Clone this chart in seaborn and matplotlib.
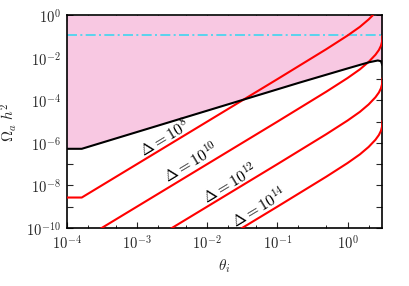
import numpy as np
import pandas as pd
import matplotlib
matplotlib.use("Agg")
import matplotlib.pyplot as plt
import matplotlib.ticker as mticker
import seaborn as sns

# ---- data ----
theta_black = [1e-4, 1.64e-4, 0.21, 1.0, 2.0, 2.7, 3.0, 3.1416]
omega_black = [5.3e-7, 5.3e-7, 7.0e-4, 3.2e-3, 6.2e-3, 7.6e-3, 7.0e-3, 4.5e-3]

theta_d8 = [1e-4, 1.64e-4, 0.1, 0.5, 1.0, 1.5, 2.0, 2.3]
omega_d8 = [2.7e-9, 2.7e-9, 1.0e-3, 2.6e-2, 0.113, 0.29, 0.65, 1.03]

theta_d10 = [3.0e-4, 0.1, 0.5, 1.0, 1.5, 2.0, 2.5, 2.8, 3.0, 3.1, 3.13, 3.1416]
omega_d10 = [9.0e-11, 1.0e-5, 2.6e-4, 1.13e-3, 2.9e-3, 6.5e-3, 1.41e-2, 2.37e-2,
             3.79e-2, 5.76e-2, 7.78e-2, 0.110]

theta_d12 = [3.0e-3, 0.1, 0.5, 1.0, 1.5, 2.0, 2.5, 2.8, 3.0, 3.1, 3.13, 3.1416]
omega_d12 = [9.0e-11, 1.0e-7, 2.6e-6, 1.13e-5, 2.9e-5, 6.5e-5, 1.41e-4, 2.37e-4,
             3.79e-4, 5.76e-4, 7.78e-4, 1.10e-3]

theta_d14 = [3.0e-2, 0.1, 0.5, 1.0, 1.5, 2.0, 2.5, 2.8, 3.0, 3.1, 3.13, 3.1416]
omega_d14 = [9.0e-11, 1.0e-9, 2.6e-8, 1.13e-7, 2.9e-7, 6.5e-7, 1.41e-6, 2.37e-6,
             3.79e-6, 5.76e-6, 7.78e-6, 1.10e-5]

omega_dm = 0.12

labels = [r"$\Delta = 10^{8}$", r"$\Delta = 10^{10}$", r"$\Delta = 10^{12}$", r"$\Delta = 10^{14}$"]
label_theta = [2.5e-3, 6.0e-3, 2.15e-2, 5.6e-2]
label_omega = [1.6e-6, 1.15e-7, 1.2e-8, 9.0e-10]

xticks = [1e-4, 1e-3, 1e-2, 1e-1, 1e0]
xticklabels = [r"$10^{-4}$", r"$10^{-3}$", r"$10^{-2}$", r"$10^{-1}$", r"$10^{0}$"]
ytick_exp = list(range(-10, 1))

# ---- style ----
sns.set_theme(style="ticks")
plt.rcParams["font.family"] = ["DejaVu Serif"]
plt.rcParams["mathtext.fontset"] = "cm"

fig = plt.figure(figsize=(4.09, 2.86), dpi=100)
ax = fig.add_axes([0.163, 0.203, 0.772, 0.743])
ax.set_xscale("log")
ax.set_yscale("log")
ax.set_xlim(1e-4, 3.1416)
ax.set_ylim(1e-10, 1.0)

# excluded (pink) region above the black curve
ax.fill_between(theta_black, omega_black, 1.0, color="#f8c8e2", lw=0, zorder=1)

# dark matter line
ax.axhline(omega_dm, color="#3fd6f0", lw=1.2, ls=(0, (6, 2, 1.2, 2)), zorder=2)

df_black = pd.DataFrame({"theta": theta_black, "omega": omega_black})
sns.lineplot(data=df_black, x="theta", y="omega", ax=ax, color="black", lw=1.5,
             sort=False, estimator=None, zorder=4)

for th, om in [(theta_d8, omega_d8), (theta_d10, omega_d10),
               (theta_d12, omega_d12), (theta_d14, omega_d14)]:
    d = pd.DataFrame({"theta": th, "omega": om})
    sns.lineplot(data=d, x="theta", y="omega", ax=ax, color="#ff0000", lw=1.5,
                 sort=False, estimator=None, zorder=3)

for t, xv, yv in zip(labels, label_theta, label_omega):
    ax.text(xv, yv, t, fontsize=11.5, rotation=31, rotation_mode="anchor",
            ha="center", va="center", color="black", zorder=5)

# ticks
ax.set_xticks(xticks)
ax.set_xticklabels(xticklabels, fontsize=10.5)
ax.xaxis.set_minor_locator(mticker.LogLocator(base=10, subs=(2.0, 5.0), numticks=20))
ax.xaxis.set_minor_formatter(mticker.NullFormatter())
ax.set_yticks([10.0 ** k for k in ytick_exp])
ax.set_yticklabels([(r"$10^{%d}$" % k) if (k % 2 == 0) else "" for k in ytick_exp],
                   fontsize=10.5)
ax.yaxis.set_minor_locator(mticker.NullLocator())
ax.tick_params(axis="both", which="major", direction="in", length=4, width=0.8,
               top=True, right=True, pad=4)
ax.tick_params(axis="both", which="minor", direction="in", length=2.5, width=0.7,
               top=True, right=True)
for s in ax.spines.values():
    s.set_linewidth(1.2)
    s.set_color("black")

ax.set_xlabel(r"$\theta_i$", fontsize=11)
ax.xaxis.set_label_coords(0.5, -0.14)
ax.set_ylabel(r"$\Omega_a\; h^2$", fontsize=11)
ax.yaxis.set_label_coords(-0.15, 0.5)

fig.savefig("out.png", dpi=100)
